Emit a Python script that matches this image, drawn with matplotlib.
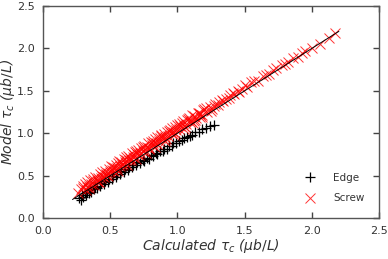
import matplotlib
matplotlib.use('Agg')
import matplotlib.pyplot as plt

# calculated vs model critical stress, screw dislocations
screw_x = [0.26, 0.28, 0.30, 0.31, 0.32, 0.33, 0.34, 0.35, 0.36, 0.37, 0.38, 0.39,
           0.40, 0.41, 0.42, 0.43, 0.44, 0.45, 0.46, 0.47, 0.48, 0.49, 0.50, 0.51,
           0.52, 0.53, 0.54, 0.55, 0.56, 0.57, 0.58, 0.59, 0.60, 0.61, 0.62, 0.63,
           0.64, 0.65, 0.66, 0.67, 0.68, 0.69, 0.70, 0.71, 0.72, 0.73, 0.74, 0.75,
           0.76, 0.77, 0.78, 0.79, 0.80, 0.81, 0.82, 0.83, 0.84, 0.85, 0.86, 0.87,
           0.88, 0.89, 0.90, 0.91, 0.92, 0.93, 0.94, 0.95, 0.96, 0.97, 0.98, 0.99,
           1.00, 1.01, 1.02, 1.03, 1.04, 1.05, 1.06, 1.07, 1.08, 1.09, 1.10, 1.11,
           1.12, 1.13, 1.14, 1.15, 1.16, 1.17, 1.18, 1.19, 1.20, 1.22, 1.24, 1.26,
           1.28, 1.30, 1.33, 1.36, 1.39, 1.42, 1.45, 1.48, 1.52, 1.55, 1.60, 1.64,
           1.68, 1.73, 1.78, 1.82, 1.86, 1.90, 1.95, 2.00, 2.06, 2.13, 2.17,
           0.345, 0.415, 0.485, 0.555, 0.625, 0.695, 0.765, 0.835, 0.905, 0.975,
           1.045, 1.115, 1.185, 1.25, 1.31, 1.38, 1.50, 1.71, 1.93,
           0.295, 0.325, 0.375, 0.405, 0.435, 0.465, 0.505, 0.535, 0.565, 0.595,
           0.615, 0.655, 0.685, 0.715, 0.745, 0.785, 0.815, 0.845, 0.875, 0.915,
           0.945, 0.985, 1.015, 1.055, 1.085, 1.125, 1.165, 1.21, 1.27, 1.34,
           1.41, 1.46, 1.57, 1.66, 1.80]
screw_y = [0.30, 0.34, 0.35, 0.40, 0.33, 0.42, 0.38, 0.45, 0.40, 0.44, 0.39, 0.49,
           0.45, 0.43, 0.52, 0.47, 0.50, 0.49, 0.55, 0.51, 0.53, 0.58, 0.54, 0.57,
           0.60, 0.56, 0.63, 0.59, 0.65, 0.61, 0.66, 0.62, 0.70, 0.66, 0.68, 0.73,
           0.69, 0.71, 0.77, 0.72, 0.74, 0.79, 0.75, 0.80, 0.77, 0.83, 0.79, 0.85,
           0.80, 0.84, 0.88, 0.83, 0.90, 0.86, 0.89, 0.93, 0.88, 0.95, 0.91, 0.94,
           0.98, 0.93, 0.99, 0.96, 1.02, 0.97, 1.03, 1.00, 1.06, 1.02, 1.07, 1.04,
           1.10, 1.05, 1.08, 1.12, 1.14, 1.09, 1.11, 1.16, 1.17, 1.13, 1.15, 1.21,
           1.20, 1.16, 1.18, 1.24, 1.24, 1.19, 1.22, 1.27, 1.28, 1.25, 1.31, 1.29,
           1.35, 1.33, 1.39, 1.40, 1.45, 1.46, 1.50, 1.52, 1.55, 1.60, 1.62, 1.68,
           1.70, 1.77, 1.80, 1.84, 1.89, 1.90, 1.97, 2.01, 2.05, 2.12, 2.18,
           0.36, 0.42, 0.50, 0.56, 0.63, 0.70, 0.77, 0.84, 0.91, 0.98,
           1.05, 1.12, 1.19, 1.26, 1.37, 1.41, 1.57, 1.74, 1.95,
           0.38, 0.37, 0.46, 0.47, 0.54, 0.52, 0.61, 0.59, 0.67, 0.64,
           0.72, 0.68, 0.78, 0.74, 0.84, 0.81, 0.91, 0.87, 0.97, 0.93,
           1.04, 1.00, 1.11, 1.07, 1.18, 1.14, 1.23, 1.30, 1.32, 1.38,
           1.48, 1.49, 1.62, 1.69, 1.82]

# edge dislocations
edge_x = [0.27, 0.28, 0.29, 0.30, 0.31, 0.32, 0.33, 0.34, 0.35, 0.36, 0.38, 0.39,
          0.40, 0.42, 0.43, 0.45, 0.46, 0.48, 0.49, 0.51, 0.52, 0.54, 0.55, 0.57,
          0.58, 0.60, 0.61, 0.63, 0.64, 0.66, 0.67, 0.69, 0.70, 0.72, 0.74, 0.75,
          0.77, 0.79, 0.80, 0.82, 0.84, 0.85, 0.87, 0.89, 0.90, 0.92, 0.94, 0.96,
          0.97, 0.99, 1.01, 1.03, 1.05, 1.07, 1.09, 1.11, 1.13, 1.16, 1.18, 1.21,
          1.24, 1.27]
edge_y = [0.24, 0.21, 0.27, 0.25, 0.29, 0.27, 0.31, 0.29, 0.33, 0.31, 0.34, 0.37,
          0.36, 0.38, 0.41, 0.40, 0.44, 0.43, 0.46, 0.46, 0.50, 0.49, 0.52, 0.52,
          0.55, 0.54, 0.58, 0.57, 0.60, 0.60, 0.63, 0.62, 0.66, 0.65, 0.68, 0.67,
          0.71, 0.70, 0.74, 0.73, 0.77, 0.76, 0.79, 0.79, 0.82, 0.82, 0.85, 0.85,
          0.88, 0.88, 0.91, 0.92, 0.94, 0.95, 0.97, 0.98, 1.01, 1.02, 1.05, 1.06,
          1.09, 1.10]

ref_line = [0.22, 2.2]

grey = '#444444'
fig, ax = plt.subplots(figsize=(3.88, 2.59), dpi=100)
fig.subplots_adjust(left=0.111, right=0.977, top=0.977, bottom=0.158)

ax.plot(edge_x, edge_y, '+', color='k', markersize=7, mew=0.9, label='Edge')
ax.plot(screw_x, screw_y, 'x', color='red', markersize=7.5, mew=0.7, alpha=0.8, label='Screw')
ax.plot(ref_line, ref_line, '-', color='k', lw=0.7)

ax.set_xlim(0, 2.5)
ax.set_ylim(0, 2.5)
ax.set_xticks([0.0, 0.5, 1.0, 1.5, 2.0, 2.5])
ax.set_yticks([0.0, 0.5, 1.0, 1.5, 2.0, 2.5])
ax.tick_params(direction='in', top=True, right=True, length=4, width=1,
               color=grey, labelcolor='#333333', labelsize=8, pad=6)
for s in ax.spines.values():
    s.set_color('#555555')
    s.set_linewidth(1)

ax.set_xlabel(r'Calculated $\tau_c$ ($\mu b/L$)', style='italic', fontsize=10, color='#333333')
ax.set_ylabel(r'Model $\tau_c$ ($\mu b/L$)', style='italic', fontsize=10, color='#333333')
ax.yaxis.set_label_coords(-0.078, 0.5)
ax.xaxis.set_label_coords(0.5, -0.088)

ax.legend(loc='lower right', frameon=False, fontsize=7.5, labelspacing=1.0,
          handletextpad=1.2, borderaxespad=1.0, labelcolor='#333333')

fig.savefig('out.png')
